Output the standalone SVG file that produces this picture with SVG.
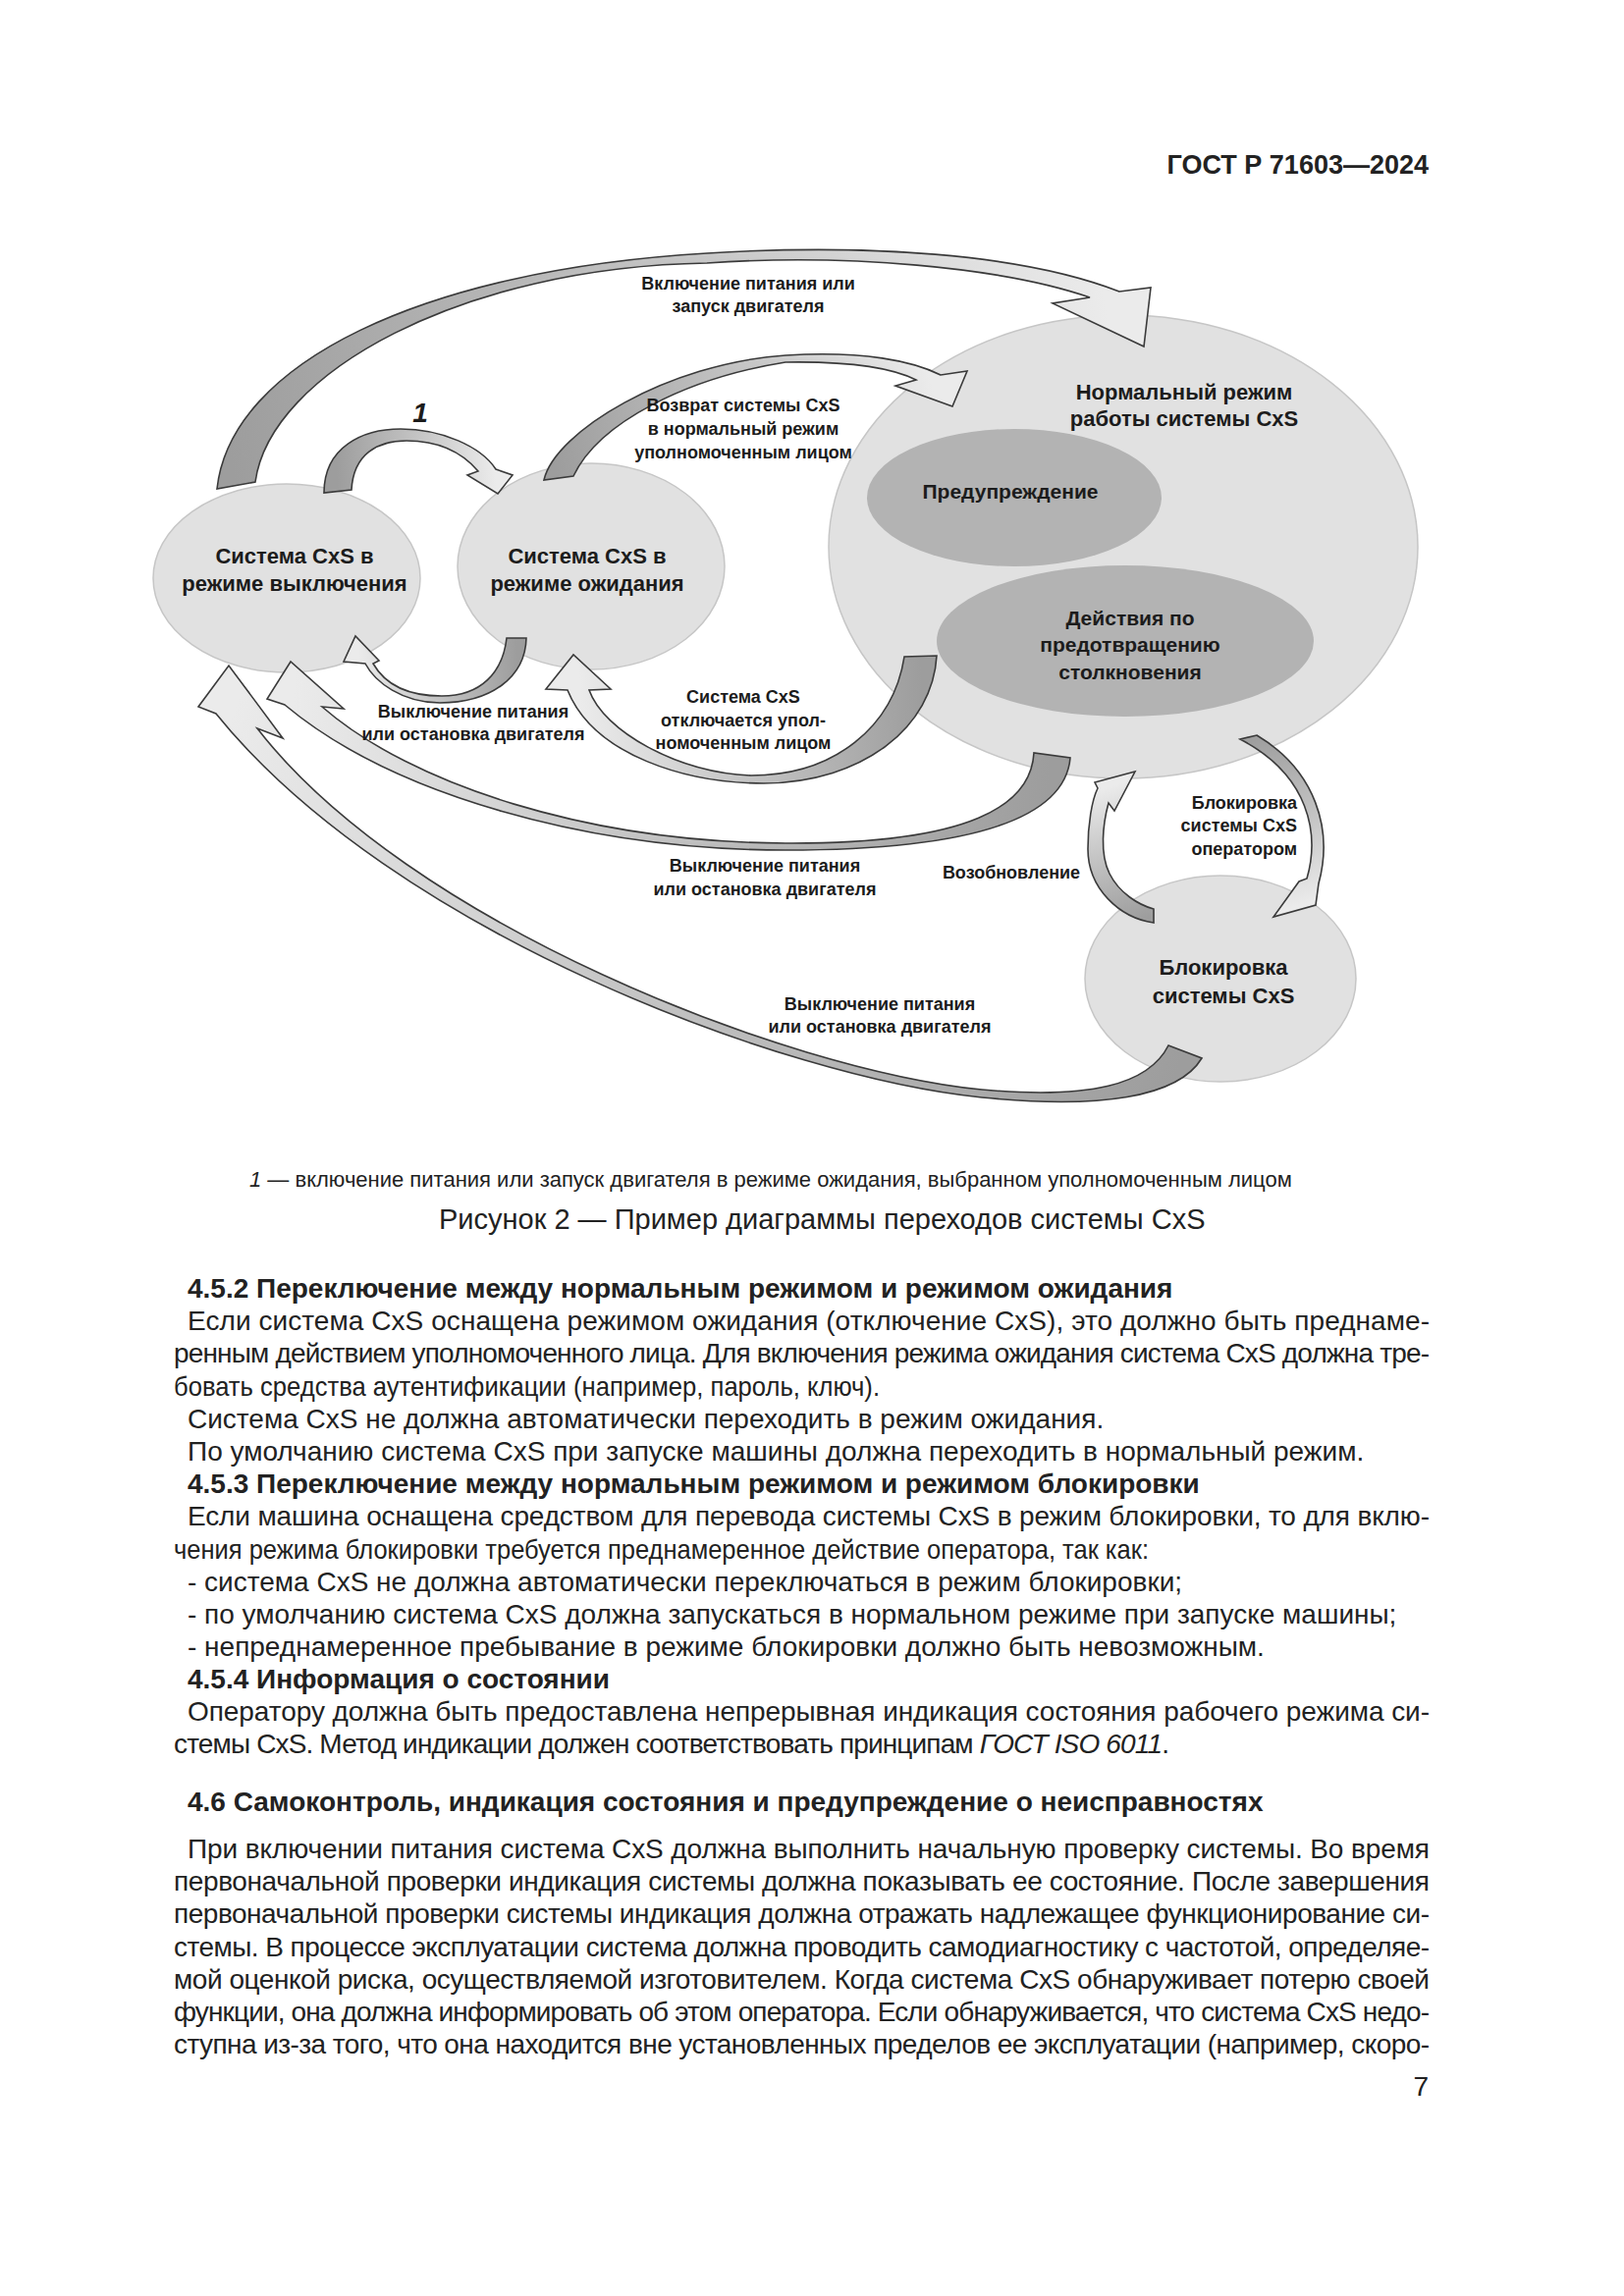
<svg xmlns="http://www.w3.org/2000/svg" width="1654" height="2339" viewBox="0 0 1654 2339">
<style>
.bg{fill:#ffffff}
.node{fill:#e1e1e1;stroke:#c6c6c6;stroke-width:1.5}
.inner{fill:#b3b3b3}
.arr{stroke:#3a3a3a;stroke-width:1.6;stroke-linejoin:miter}
.nl{font-family:"Liberation Sans",Arial,sans-serif;font-weight:bold;font-size:22px;fill:#1c1c1c;text-anchor:middle}
.nl21{font-size:21px}
.al{font-family:"Liberation Sans",Arial,sans-serif;font-weight:bold;font-size:18px;fill:#1c1c1c;text-anchor:middle}
.al.end{text-anchor:end}
.num{font-family:"Liberation Sans",Arial,sans-serif;font-style:italic;font-weight:bold;font-size:28px;fill:#1c1c1c;text-anchor:middle}
.body{font-family:"Liberation Sans",Arial,sans-serif;font-size:28px;fill:#222222}
.cap{font-size:29px}
.b{font-weight:bold}
.tight{letter-spacing:-0.85px}
.foot{font-family:"Liberation Sans",Arial,sans-serif;font-size:22px;fill:#222222}
.hdr{font-family:"Liberation Sans",Arial,sans-serif;font-weight:bold;font-size:27px;fill:#222222;text-anchor:end}
</style>
<defs>
<linearGradient id="gA" gradientUnits="userSpaceOnUse" x1="240" y1="495" x2="1130" y2="330"><stop offset="0" stop-color="#9d9d9d"/><stop offset="0.55" stop-color="#c6c6c6"/><stop offset="1" stop-color="#ebebeb"/></linearGradient>
<linearGradient id="gB" gradientUnits="userSpaceOnUse" x1="568" y1="487" x2="950" y2="395"><stop offset="0" stop-color="#9d9d9d"/><stop offset="0.55" stop-color="#c6c6c6"/><stop offset="1" stop-color="#ebebeb"/></linearGradient>
<linearGradient id="gC" gradientUnits="userSpaceOnUse" x1="344" y1="500" x2="505" y2="490"><stop offset="0" stop-color="#9d9d9d"/><stop offset="0.55" stop-color="#c6c6c6"/><stop offset="1" stop-color="#ebebeb"/></linearGradient>
<linearGradient id="gD" gradientUnits="userSpaceOnUse" x1="526" y1="650" x2="365" y2="660"><stop offset="0" stop-color="#9d9d9d"/><stop offset="0.55" stop-color="#c6c6c6"/><stop offset="1" stop-color="#ebebeb"/></linearGradient>
<linearGradient id="gE" gradientUnits="userSpaceOnUse" x1="937" y1="669" x2="590" y2="690"><stop offset="0" stop-color="#9d9d9d"/><stop offset="0.55" stop-color="#c6c6c6"/><stop offset="1" stop-color="#ebebeb"/></linearGradient>
<linearGradient id="gF" gradientUnits="userSpaceOnUse" x1="1071" y1="770" x2="300" y2="700"><stop offset="0" stop-color="#9d9d9d"/><stop offset="0.55" stop-color="#c6c6c6"/><stop offset="1" stop-color="#ebebeb"/></linearGradient>
<linearGradient id="gG" gradientUnits="userSpaceOnUse" x1="1207" y1="1071" x2="240" y2="720"><stop offset="0" stop-color="#9d9d9d"/><stop offset="0.55" stop-color="#c6c6c6"/><stop offset="1" stop-color="#ebebeb"/></linearGradient>
<linearGradient id="gH" gradientUnits="userSpaceOnUse" x1="1271" y1="751" x2="1315" y2="925"><stop offset="0" stop-color="#9d9d9d"/><stop offset="0.55" stop-color="#c6c6c6"/><stop offset="1" stop-color="#ebebeb"/></linearGradient>
<linearGradient id="gI" gradientUnits="userSpaceOnUse" x1="1175" y1="933" x2="1135" y2="800"><stop offset="0" stop-color="#9d9d9d"/><stop offset="0.55" stop-color="#c6c6c6"/><stop offset="1" stop-color="#ebebeb"/></linearGradient>
</defs>
<rect class="bg" x="0" y="0" width="1654" height="2339"/>

<text class="hdr" x="1455" y="177">ГОСТ Р 71603—2024</text>

<g id="node-normal">
<ellipse class="node" cx="1144" cy="557" rx="300" ry="236"/>
<text class="nl" x="1206" y="407">Нормальный режим</text>
<text class="nl" x="1206" y="434">работы системы CxS</text>
</g>
<g id="node-warning">
<ellipse class="inner" cx="1033" cy="507" rx="150" ry="70"/>
<text class="nl nl21" x="1029" y="508">Предупреждение</text>
</g>
<g id="node-collision">
<ellipse class="inner" cx="1146" cy="653" rx="192" ry="77"/>
<text class="nl nl21" x="1151" y="637">Действия по</text>
<text class="nl nl21" x="1151" y="664">предотвращению</text>
<text class="nl nl21" x="1151" y="692">столкновения</text>
</g>
<g id="node-off">
<ellipse class="node" cx="292" cy="589" rx="136" ry="96"/>
<text class="nl" x="300" y="574">Система CxS в</text>
<text class="nl" x="300" y="602">режиме выключения</text>
</g>
<g id="node-standby">
<ellipse class="node" cx="602" cy="577" rx="136" ry="105"/>
<text class="nl" x="598" y="574">Система CxS в</text>
<text class="nl" x="598" y="602">режиме ожидания</text>
</g>
<g id="node-blocked">
<ellipse class="node" cx="1243" cy="997" rx="138" ry="105"/>
<text class="nl" x="1246" y="993">Блокировка</text>
<text class="nl" x="1246" y="1022">системы CxS</text>
</g>

<g id="connectors">
<path class="arr" fill="url(#gA)" d="M221,498 C235,370 430,275 720,258 C880,248 1040,258 1140,297 L1172,293 L1165,353 L1072,309 L1110,303 C1020,272 860,258 720,268 C470,272 275,380 260,491 Z"/>
<path class="arr" fill="url(#gB)" d="M554,489 C565,440 680,370 800,362 C880,357 930,368 958,382 L985,378 L970,414 L912,393 L933,387 C905,373 860,368 800,369 C700,385 610,430 584,485 Z"/>
<path class="arr" fill="url(#gC)" d="M330,502 C330,455 370,437 408,437 C450,437 490,455 505,478 L522,484 L507,503 L476,484 L487,480 C470,460 445,449 414,449 C385,449 360,462 358,499 Z"/>
<path class="arr" fill="url(#gD)" d="M536,650 C535,690 500,716 448,716 C410,716 382,695 372,676 L350,674 L362,648 L386,673 L380,676 C392,697 415,709 450,709 C490,709 512,685 516,650 Z"/>
<path class="arr" fill="url(#gE)" d="M954,668 C950,740 880,797 778,798 C700,798 605,770 578,703 L556,702 L584,667 L622,702 L600,703 C615,745 690,787 765,790 C850,790 910,740 921,669 Z"/>
<path class="arr" fill="url(#gF)" d="M1090,772 C1085,830 1000,866 800,866 C600,866 400,810 290,718 L272,712 L296,674 L350,722 L328,720 C420,800 600,858 800,859 C990,860 1050,820 1053,767 Z"/>
<path class="arr" fill="url(#gG)" d="M1224,1078 C1200,1118 1120,1130 1000,1118 C800,1098 400,950 220,727 L202,720 L233,678 L288,752 L262,742 C415,940 800,1090 1000,1110 C1110,1120 1170,1105 1190,1065 Z"/>
<path class="arr" fill="url(#gH)" d="M1263,753 L1280,749 C1340,785 1358,845 1343,900 L1340,922 L1297,934 L1323,898 L1331,895 C1344,850 1334,790 1263,753 Z"/>
<path class="arr" fill="url(#gI)" d="M1175,926 L1175,940 C1140,935 1108,905 1108,865 C1108,840 1112,815 1118,803 L1115,797 L1156,786 L1135,826 L1129,818 C1123,840 1120,870 1130,890 C1140,910 1160,922 1175,926 Z"/>

<text class="al" x="762" y="295">Включение питания или</text>
<text class="al" x="762" y="318">запуск двигателя</text>
<text class="al" x="757" y="419">Возврат системы CxS</text>
<text class="al" x="757" y="443">в нормальный режим</text>
<text class="al" x="757" y="467">уполномоченным лицом</text>
<text class="num" x="428" y="430">1</text>
<text class="al" x="482" y="731">Выключение питания</text>
<text class="al" x="482" y="754">или остановка двигателя</text>
<text class="al" x="757" y="716">Система CxS</text>
<text class="al" x="757" y="740">отключается упол-</text>
<text class="al" x="757" y="763">номоченным лицом</text>
<text class="al" x="779" y="888">Выключение питания</text>
<text class="al" x="779" y="912">или остановка двигателя</text>
<text class="al" x="896" y="1029">Выключение питания</text>
<text class="al" x="896" y="1052">или остановка двигателя</text>
<text class="al end" x="1321" y="824">Блокировка</text>
<text class="al end" x="1321" y="847">системы CxS</text>
<text class="al end" x="1321" y="871">оператором</text>
<text class="al" x="1030" y="895">Возобновление</text>
</g>

<text class="foot" x="254" y="1209"><tspan font-style="italic">1</tspan> — включение питания или запуск двигателя в режиме ожидания, выбранном уполномоченным лицом</text>
<text class="body cap" x="447" y="1252">Рисунок 2 — Пример диаграммы переходов системы CxS</text>

<g id="body-text">
<text class="body b" x="191" y="1322">4.5.2 Переключение между нормальным режимом и режимом ожидания</text>
<text class="body" x="191" y="1355" textLength="1265" lengthAdjust="spacing">Если система CxS оснащена режимом ожидания (отключение CxS), это должно быть преднаме-</text>
<text class="body" x="177" y="1388" textLength="1279" lengthAdjust="spacing">ренным действием уполномоченного лица. Для включения режима ожидания система CxS должна тре-</text>
<text class="body" x="177" y="1422" textLength="719" lengthAdjust="spacingAndGlyphs">бовать средства аутентификации (например, пароль, ключ).</text>
<text class="body" x="191" y="1455">Система CxS не должна автоматически переходить в режим ожидания.</text>
<text class="body" x="191" y="1488">По умолчанию система CxS при запуске машины должна переходить в нормальный режим.</text>
<text class="body b" x="191" y="1521">4.5.3 Переключение между нормальным режимом и режимом блокировки</text>
<text class="body" x="191" y="1554" textLength="1265" lengthAdjust="spacing">Если машина оснащена средством для перевода системы CxS в режим блокировки, то для вклю-</text>
<text class="body" x="177" y="1588" textLength="993" lengthAdjust="spacingAndGlyphs">чения режима блокировки требуется преднамеренное действие оператора, так как:</text>
<text class="body" x="191" y="1621">- система CxS не должна автоматически переключаться в режим блокировки;</text>
<text class="body" x="191" y="1654">- по умолчанию система CxS должна запускаться в нормальном режиме при запуске машины;</text>
<text class="body" x="191" y="1687">- непреднамеренное пребывание в режиме блокировки должно быть невозможным.</text>
<text class="body b" x="191" y="1720">4.5.4 Информация о состоянии</text>
<text class="body" x="191" y="1753" textLength="1265" lengthAdjust="spacing">Оператору должна быть предоставлена непрерывная индикация состояния рабочего режима си-</text>
<text class="body tight" x="177" y="1786">стемы CxS. Метод индикации должен соответствовать принципам <tspan font-style="italic">ГОСТ ISO 6011</tspan>.</text>
<text class="body b" x="191" y="1845">4.6 Самоконтроль, индикация состояния и предупреждение о неисправностях</text>
<text class="body" x="191" y="1893" textLength="1265" lengthAdjust="spacing">При включении питания система CxS должна выполнить начальную проверку системы. Во время</text>
<text class="body" x="177" y="1926" textLength="1279" lengthAdjust="spacing">первоначальной проверки индикация системы должна показывать ее состояние. После завершения</text>
<text class="body" x="177" y="1959" textLength="1279" lengthAdjust="spacing">первоначальной проверки системы индикация должна отражать надлежащее функционирование си-</text>
<text class="body" x="177" y="1993" textLength="1279" lengthAdjust="spacing">стемы. В процессе эксплуатации система должна проводить самодиагностику с частотой, определяе-</text>
<text class="body" x="177" y="2026" textLength="1279" lengthAdjust="spacing">мой оценкой риска, осуществляемой изготовителем. Когда система CxS обнаруживает потерю своей</text>
<text class="body" x="177" y="2059" textLength="1279" lengthAdjust="spacing">функции, она должна информировать об этом оператора. Если обнаруживается, что система CxS недо-</text>
<text class="body" x="177" y="2092" textLength="1279" lengthAdjust="spacing">ступна из-за того, что она находится вне установленных пределов ее эксплуатации (например, скоро-</text>
<text class="body" x="1455" y="2135" text-anchor="end">7</text>
</g>
</svg>
